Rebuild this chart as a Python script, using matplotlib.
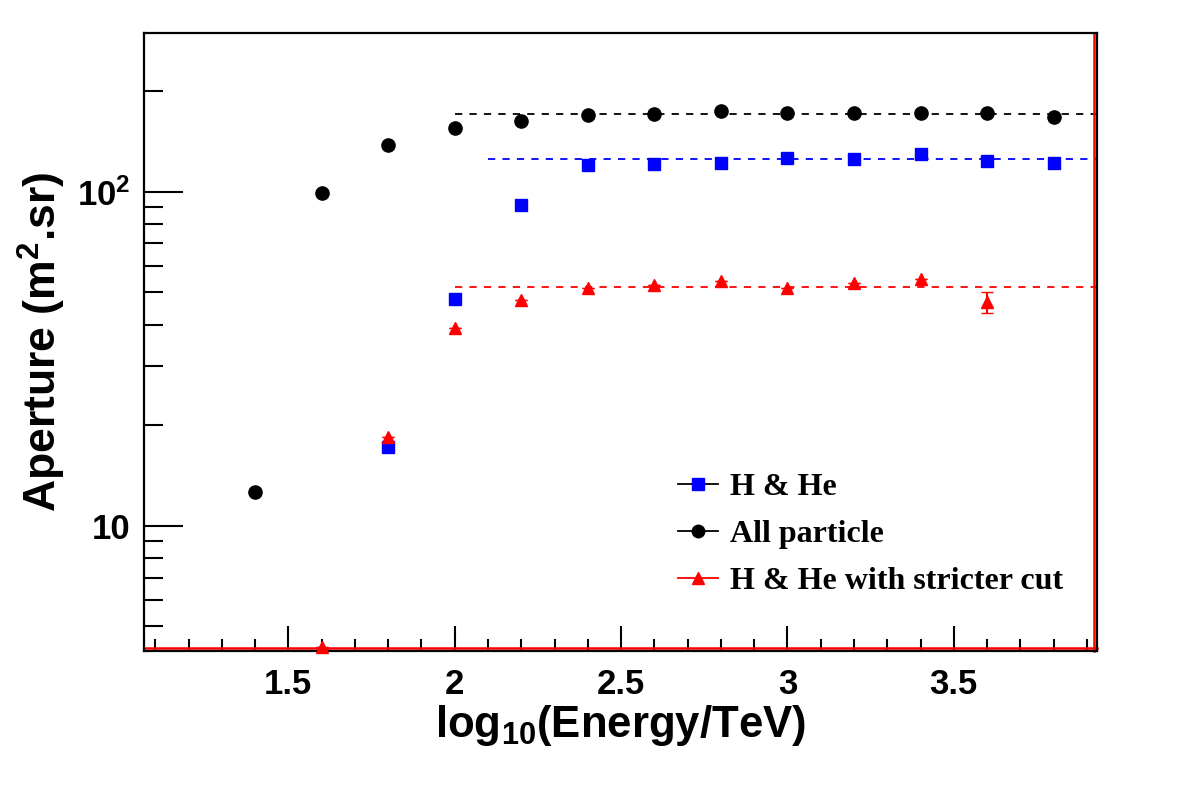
import matplotlib
matplotlib.use("Agg")
import matplotlib.pyplot as plt
from matplotlib.lines import Line2D
from matplotlib.ticker import FixedLocator, FixedFormatter, MultipleLocator, LogLocator, NullFormatter

plt.rcParams['mathtext.fontset'] = 'custom'
plt.rcParams['mathtext.rm'] = 'Liberation Sans:bold'
plt.rcParams['mathtext.bf'] = 'Liberation Sans:bold'
plt.rcParams['mathtext.it'] = 'Liberation Sans:bold'

# log10(E/TeV) bins
x_all = [1.4, 1.6, 1.8, 2.0, 2.2, 2.4, 2.6, 2.8, 3.0, 3.2, 3.4, 3.6, 3.8]
y_all = [12.6, 99.0, 138, 155.5, 163, 170, 170.5, 174, 172, 172, 172, 172, 167]

x_hhe = [1.8, 2.0, 2.2, 2.4, 2.6, 2.8, 3.0, 3.2, 3.4, 3.6, 3.8]
y_hhe = [17.2, 47.7, 91.2, 120.2, 121, 122.2, 125.9, 125.3, 129.4, 123.8, 121.6]

x_strict = [1.6, 1.8, 2.0, 2.2, 2.4, 2.6, 2.8, 3.0, 3.2, 3.4, 3.6]
y_strict = [4.35, 18.4, 39.2, 47.4, 51.4, 52.6, 54.1, 51.4, 53.2, 54.7, 46.6]
err_lo_strict = [0, 0, 0, 0, 0, 0, 0, 0, 0, 0, 3.2]
err_hi_strict = [0, 0, 0, 0, 0, 0, 0, 0, 0, 0, 3.6]

# plateau fits: (start, level)
fit_all = (2.0, 170.5)
fit_hhe = (2.1, 125.3)
fit_strict = (2.0, 51.9)

xmin, xmax = 1.066, 3.93
ymin, ymax = 4.22, 299

fig = plt.figure(figsize=(11.82, 7.90), dpi=100)
ax = fig.add_axes([0.1218, 0.176, 0.8062, 0.7826])
ax.set_yscale('log')
ax.set_xlim(xmin, xmax)
ax.set_ylim(ymin, ymax)

ax.plot([fit_all[0], xmax], [fit_all[1]] * 2, color='black', ls=(0, (4, 4)), lw=1.3)
ax.plot([fit_hhe[0], xmax], [fit_hhe[1]] * 2, color='blue', ls=(0, (4, 4)), lw=1.3)
ax.plot([fit_strict[0], xmax], [fit_strict[1]] * 2, color='red', ls=(0, (4, 4)), lw=1.3)

ax.plot(x_all, y_all, 'o', color='black', ms=9.5, ls='none', zorder=5)
ax.plot(x_hhe, y_hhe, 's', color='blue', ms=9, ls='none', zorder=5)
ax.errorbar(x_strict, y_strict, yerr=[err_lo_strict, err_hi_strict], fmt='^',
            color='red', ms=9, elinewidth=1.5, capsize=4, zorder=5, clip_on=False)

# red frame remnants along bottom and right
ax.plot([0, 1], [0.004, 0.004], transform=ax.transAxes, color='red', lw=1.8, clip_on=False)
ax.plot([0.997, 0.997], [0, 1], transform=ax.transAxes, color='red', lw=1.8, clip_on=False)

for s in ax.spines.values():
    s.set_linewidth(1.6)

ax.xaxis.set_major_locator(FixedLocator([1.5, 2, 2.5, 3, 3.5]))
ax.xaxis.set_major_formatter(FixedFormatter(['1.5', '2', '2.5', '3', '3.5']))
ax.xaxis.set_minor_locator(MultipleLocator(0.1))
ax.yaxis.set_major_locator(FixedLocator([10, 100]))
ax.yaxis.set_major_formatter(FixedFormatter(['10', r'$10^2$']))
ax.yaxis.set_minor_locator(LogLocator(base=10, subs=range(2, 10)))
ax.yaxis.set_minor_formatter(NullFormatter())

ax.tick_params(axis='x', which='major', direction='in', length=18, width=1.5, pad=12)
ax.tick_params(axis='x', which='minor', direction='in', length=9, width=1.5)
ax.tick_params(axis='y', which='major', direction='in', length=28, width=1.5, pad=10)
ax.tick_params(axis='y', which='minor', direction='in', length=14, width=1.5)
for lab in ax.get_xticklabels() + ax.get_yticklabels():
    lab.set_fontfamily('Liberation Sans')
    lab.set_fontweight('bold')
    lab.set_fontsize(25)

ax.set_xlabel(r'log$_{10}$(Energy/TeV)', fontfamily='Liberation Sans',
              fontweight='bold', fontsize=31.5, labelpad=2)
ax.set_ylabel(r'Aperture (m$^{2}$.sr)', fontfamily='Liberation Sans',
              fontweight='bold', fontsize=32, labelpad=6)

handles = [
    Line2D([], [], color='black', lw=1.3, marker='s', mfc='blue', mec='blue', ms=9),
    Line2D([], [], color='black', lw=1.3, marker='o', mfc='black', mec='black', ms=9),
    Line2D([], [], color='red', lw=1.3, marker='^', mfc='red', mec='red', ms=9),
]
labels = ['H & He', 'All particle', 'H & He with stricter cut']
ax.legend(handles, labels, loc='upper left', bbox_to_anchor=(0.530, 0.335), frameon=False,
          prop={'family': 'Liberation Serif', 'weight': 'bold', 'size': 23},
          handlelength=1.25, handletextpad=0.38, labelspacing=0.55)

fig.savefig('out.png', dpi=100)
